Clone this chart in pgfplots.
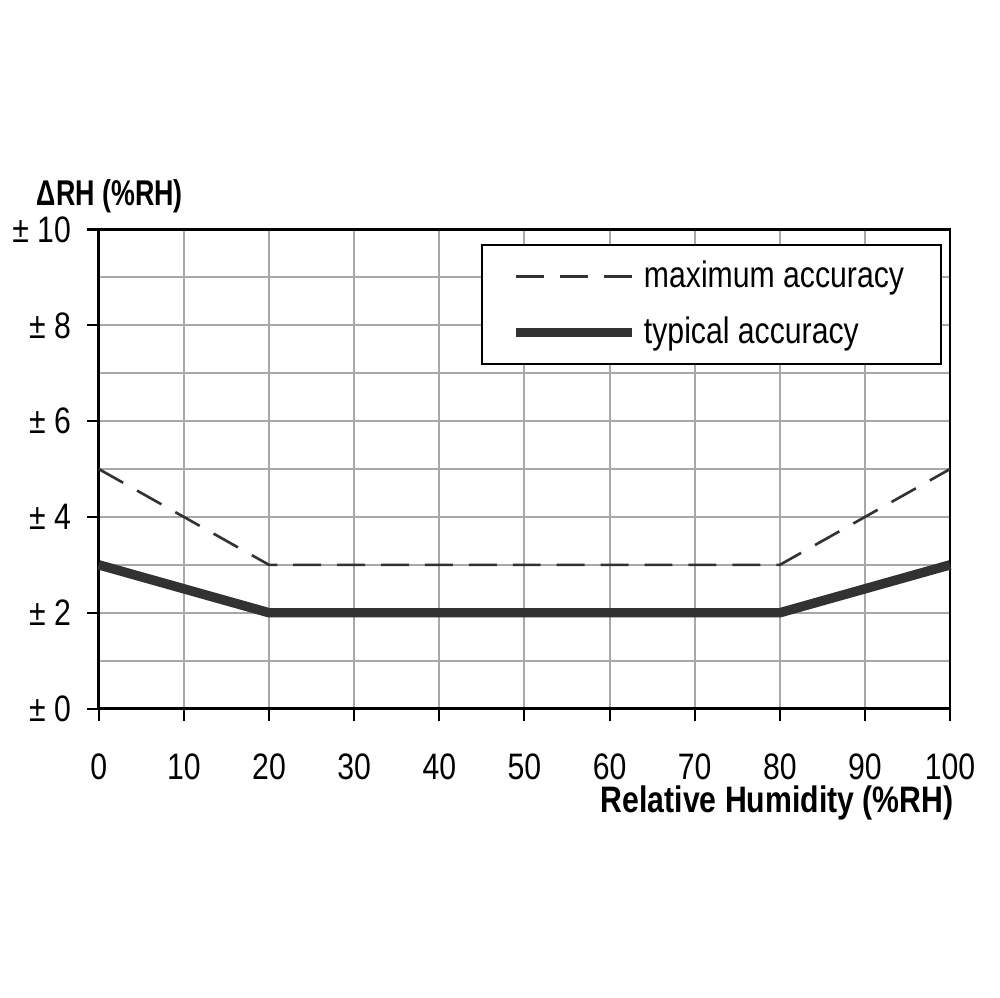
\documentclass[border=0pt]{standalone}
\usepackage{fontspec}
\setmainfont{Liberation Sans}[FakeStretch=0.82]
\newfontfamily\narrowfont{Liberation Sans}[FakeStretch=0.75]
\usepackage{pgfplots}
\pgfplotsset{compat=1.18}
\definecolor{gridgray}{RGB}{168,168,168}
\definecolor{linedark}{RGB}{50,50,50}

\begin{document}
\fontsize{10.5pt}{12.5pt}\selectfont
\begin{tikzpicture}
\begin{axis}[
  width=8.53cm, height=4.8cm, scale only axis,
  xmin=0, xmax=100, ymin=0, ymax=10,
  xtick={0,10,...,100},
  ytick={0,2,...,10},
  yticklabels={± 0,± 2,± 4,± 6,± 8,± 10},
  minor ytick={1,3,5,7,9},
  xticklabel style={font=\fontsize{10.5pt}{12.5pt}\selectfont, yshift=-0.2cm},
  yticklabel style={font=\fontsize{10.5pt}{12.5pt}\selectfont, xshift=-0.03cm},
  /pgf/number format/assume math mode=true,
  tick align=outside, major tick length=0.12cm, minor tick length=0cm,
  xtick pos=bottom, ytick pos=left,
  tick style={black, line width=0.6pt},
  grid=both,
  major grid style={gridgray, line width=0.6pt},
  minor grid style={gridgray, line width=0.6pt},
  axis line style={black, line width=0.8pt},
  legend style={at={(rel axis cs:0.9906,0.969)}, anchor=north east,
    draw=black, line width=0.6pt, fill=white,
    font=\fontsize{10.5pt}{12.5pt}\selectfont,
    inner xsep=0.3cm, inner ysep=0.08cm, row sep=0.1cm,
    cells={anchor=west}},
  legend image code/.code={\draw[#1] (0cm,0cm) -- (1.16cm,0cm);},
  clip=false,
]
\addplot[linedark, line width=0.75pt, dash pattern=on 0.28cm off 0.16cm]
  coordinates {(0,5)(20,3)(80,3)(100,5)};
\addlegendentry{maximum accuracy}
\addplot[linedark, line width=2.7pt]
  coordinates {(0,3)(20,2)(80,2)(100,3)};
\addlegendentry{typical accuracy}
\node[anchor=west, font=\narrowfont\bfseries\fontsize{10.2pt}{12pt}\selectfont] at (rel axis cs:-0.0879,1.069) {ΔRH (\%RH)};
\node[anchor=east, font=\bfseries\fontsize{10.5pt}{12.5pt}\selectfont] at (rel axis cs:1.019,-0.198) {Relative Humidity (\%RH)};
\end{axis}
\path (current axis.south west) ++(-0.97cm,-2.9cm) rectangle ++(10cm,10cm);
\end{tikzpicture}
\end{document}
